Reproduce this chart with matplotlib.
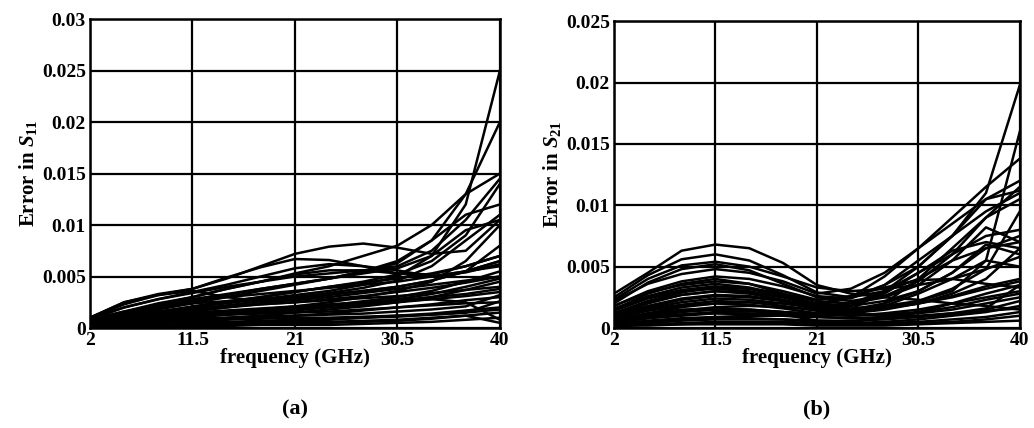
import numpy as np
import matplotlib.pyplot as plt

plt.rcParams['font.family'] = ['Liberation Serif', 'DejaVu Serif']
plt.rcParams['font.weight'] = 'bold'
plt.rcParams['axes.labelweight'] = 'bold'
plt.rcParams['mathtext.fontset'] = 'custom'
plt.rcParams['mathtext.it'] = 'Liberation Serif:italic:bold'
plt.rcParams['mathtext.rm'] = 'Liberation Serif:bold'

# sample frequencies (GHz)
freq = [2, 5.17, 8.33, 11.5, 14.67, 17.83, 21, 24.17, 27.33, 30.5, 33.67, 36.83, 40]
xticks = [2, 11.5, 21, 30.5, 40]

# error in S11, values in units of 1e-3
s11_err = [
    [1.0, 2.5, 3.3, 3.8, 4.8, 6.0, 7.2, 7.9, 8.2, 7.8, 7.2, 7.5, 10.5],
    [1.0, 2.3, 3.2, 3.8, 4.9, 5.9, 6.7, 6.6, 6.0, 5.3, 5.2, 6.0, 7.0],
    [0.8, 2.0, 2.8, 3.5, 4.2, 5.0, 5.8, 6.2, 6.0, 5.6, 5.0, 5.5, 6.5],
    [0.5, 1.5, 2.3, 3.0, 3.8, 4.5, 5.2, 5.6, 5.6, 5.3, 5.0, 5.4, 6.2],
    [0.5, 1.0, 1.5, 2.0, 2.4, 2.8, 3.2, 3.6, 4.2, 5.0, 7.0, 12.0, 25.0],
    [0.6, 1.2, 1.8, 2.4, 3.0, 3.6, 4.2, 4.8, 5.5, 6.5, 8.5, 13.0, 20.0],
    [0.8, 1.6, 2.4, 3.0, 3.8, 4.5, 5.3, 6.0, 7.0, 8.0, 10.0, 13.0, 15.0],
    [1.0, 2.0, 2.8, 3.4, 4.0, 4.5, 5.0, 5.3, 5.6, 6.0, 7.5, 10.5, 14.5],
    [0.5, 1.0, 1.5, 2.0, 2.5, 3.0, 3.5, 4.0, 4.5, 5.2, 6.5, 9.0, 14.0],
    [0.7, 1.5, 2.2, 2.8, 3.3, 3.8, 4.3, 4.8, 5.5, 6.3, 8.5, 11.0, 12.0],
    [0.4, 0.9, 1.4, 1.8, 2.2, 2.6, 3.0, 3.4, 3.9, 4.6, 6.0, 8.5, 11.0],
    [0.6, 1.3, 2.0, 2.6, 3.2, 3.8, 4.3, 4.8, 5.3, 5.8, 7.0, 9.5, 10.5],
    [0.3, 0.6, 0.9, 1.2, 1.5, 1.8, 2.1, 2.5, 3.0, 3.6, 4.5, 6.5, 10.0],
    [0.6, 1.4, 2.0, 2.4, 2.6, 2.8, 3.0, 3.3, 3.6, 4.0, 4.6, 5.5, 8.0],
    [0.5, 1.1, 1.6, 2.1, 2.6, 3.0, 3.5, 4.0, 4.4, 4.8, 5.3, 6.0, 7.0],
    [0.4, 0.8, 1.2, 1.6, 2.0, 2.4, 2.8, 3.2, 3.6, 4.0, 4.6, 5.5, 6.5],
    [0.8, 1.6, 2.2, 2.6, 3.0, 3.3, 3.6, 3.9, 4.2, 4.5, 5.0, 5.5, 6.0],
    [0.3, 0.5, 0.8, 1.0, 1.3, 1.6, 1.9, 2.2, 2.6, 3.0, 3.6, 4.5, 5.5],
    [1.0, 2.5, 3.2, 3.6, 3.0, 2.6, 2.7, 3.0, 3.4, 3.8, 4.2, 4.6, 5.0],
    [0.5, 1.0, 1.4, 1.7, 2.0, 2.3, 2.5, 2.8, 3.1, 3.5, 3.9, 4.4, 5.0],
    [0.2, 0.4, 0.6, 0.8, 1.0, 1.2, 1.5, 1.8, 2.1, 2.5, 3.0, 3.7, 4.5],
    [0.6, 1.2, 1.6, 1.9, 2.1, 2.3, 2.5, 2.7, 2.9, 3.1, 3.4, 3.7, 4.0],
    [0.3, 0.6, 0.9, 1.1, 1.3, 1.5, 1.7, 2.0, 2.2, 2.5, 2.8, 3.1, 3.5],
    [0.3, 0.5, 0.7, 0.9, 1.0, 1.1, 1.2, 1.3, 1.4, 1.6, 1.8, 2.1, 3.2],
    [0.2, 0.3, 0.5, 0.6, 0.8, 1.0, 1.2, 1.4, 1.7, 2.0, 2.3, 2.7, 3.0],
    [0.4, 0.8, 1.0, 1.2, 1.3, 1.4, 1.5, 1.6, 1.8, 2.0, 2.2, 2.4, 2.5],
    [0.5, 0.8, 1.1, 1.4, 1.6, 1.8, 2.0, 2.2, 2.4, 2.6, 2.8, 2.5, 0.8],
    [0.1, 0.2, 0.3, 0.4, 0.5, 0.6, 0.7, 0.8, 1.0, 1.2, 1.4, 1.7, 2.0],
    [0.2, 0.2, 0.3, 0.3, 0.3, 0.4, 0.4, 0.5, 0.6, 0.7, 0.9, 1.2, 1.5],
    [0.3, 0.7, 1.0, 1.3, 1.5, 1.7, 1.9, 2.1, 2.4, 2.8, 3.3, 4.0, 4.8],
    [0.1, 0.1, 0.2, 0.2, 0.2, 0.3, 0.3, 0.3, 0.4, 0.5, 0.6, 0.8, 1.0],
    [0.4, 0.6, 0.7, 0.8, 0.9, 0.9, 1.0, 1.0, 1.1, 1.2, 1.3, 1.5, 1.8],
    [0.2, 0.4, 0.5, 0.6, 0.6, 0.7, 0.8, 0.9, 1.0, 1.1, 1.3, 1.5, 2.6],
    [0.6, 1.0, 1.3, 1.5, 1.7, 1.9, 2.1, 2.3, 2.5, 2.7, 3.0, 3.3, 3.8],
    [0.1, 0.2, 0.2, 0.3, 0.4, 0.5, 0.6, 0.6, 0.7, 0.8, 1.0, 1.2, 0.5],
]

# error in S21, values in units of 1e-3
s21_err = [
    [2.8, 4.5, 6.3, 6.8, 6.5, 5.3, 3.5, 2.8, 2.5, 2.3, 2.0, 1.8, 1.5],
    [2.5, 4.3, 5.6, 6.0, 5.5, 4.3, 2.9, 2.5, 3.0, 4.0, 5.5, 6.5, 7.0],
    [2.3, 4.0, 5.1, 5.4, 5.0, 4.2, 3.3, 3.0, 3.2, 3.5, 4.0, 4.8, 5.8],
    [2.0, 3.7, 4.8, 5.2, 4.7, 3.6, 2.5, 2.2, 2.6, 3.8, 6.0, 9.0, 11.5],
    [2.2, 3.6, 4.4, 4.8, 4.5, 3.8, 2.8, 3.2, 4.5, 6.5, 8.5, 10.5, 12.0],
    [1.8, 3.0, 3.8, 4.2, 4.0, 3.4, 2.6, 2.4, 3.5, 5.5, 7.5, 9.5, 11.0],
    [1.5, 2.8, 3.6, 4.0, 3.6, 2.8, 1.8, 2.5, 4.2, 6.5, 9.0, 11.5, 13.8],
    [1.5, 2.6, 3.3, 3.6, 3.3, 2.7, 2.0, 1.8, 2.8, 4.5, 6.0, 7.5, 8.0],
    [1.2, 2.2, 2.9, 3.3, 3.2, 2.8, 2.2, 2.0, 2.5, 3.5, 5.5, 8.2, 7.0],
    [1.0, 2.0, 2.7, 3.0, 2.8, 2.3, 1.7, 1.5, 2.0, 3.0, 4.5, 6.8, 6.0],
    [1.2, 2.1, 2.7, 3.0, 2.9, 2.5, 2.0, 2.5, 3.5, 5.0, 7.5, 11.0, 19.8],
    [0.8, 1.7, 2.3, 2.6, 2.5, 2.2, 1.8, 1.6, 1.8, 2.2, 3.0, 5.5, 16.0],
    [1.0, 1.6, 2.1, 2.4, 2.3, 2.0, 1.6, 1.4, 1.6, 2.0, 2.6, 3.4, 4.0],
    [0.5, 1.2, 1.7, 2.0, 2.1, 2.0, 1.8, 1.8, 2.2, 3.0, 4.5, 6.5, 7.5],
    [0.8, 1.4, 1.8, 2.0, 1.9, 1.6, 1.2, 1.0, 1.2, 1.5, 2.0, 2.5, 3.0],
    [0.6, 1.0, 1.4, 1.7, 1.8, 1.7, 1.5, 1.4, 1.6, 2.0, 2.8, 4.0, 6.5],
    [0.4, 0.8, 1.1, 1.3, 1.4, 1.3, 1.2, 1.3, 1.6, 2.2, 3.2, 4.8, 9.5],
    [0.6, 0.9, 1.1, 1.2, 1.1, 1.0, 0.9, 0.8, 0.9, 1.0, 1.2, 1.4, 1.6],
    [0.3, 0.6, 0.8, 0.9, 1.0, 1.0, 0.9, 0.8, 0.8, 0.9, 1.1, 1.5, 2.2],
    [0.2, 0.4, 0.6, 0.7, 0.7, 0.7, 0.6, 0.6, 0.7, 0.9, 1.2, 1.6, 3.5],
    [0.1, 0.3, 0.4, 0.5, 0.5, 0.5, 0.4, 0.3, 0.3, 0.4, 0.5, 0.7, 1.0],
    [0.2, 0.2, 0.3, 0.3, 0.3, 0.3, 0.2, 0.2, 0.2, 0.3, 0.4, 0.5, 0.6],
    [0.4, 0.8, 1.0, 1.2, 1.2, 1.1, 1.0, 1.5, 3.0, 5.0, 7.5, 10.5, 11.2],
    [0.9, 1.5, 1.9, 2.2, 2.1, 1.8, 1.4, 1.2, 2.0, 4.0, 6.5, 9.0, 10.5],
    [1.4, 2.4, 3.0, 3.2, 3.0, 2.5, 1.8, 2.0, 3.0, 4.5, 6.3, 7.0, 6.5],
    [0.7, 1.2, 1.5, 1.6, 1.5, 1.3, 1.0, 1.2, 1.8, 2.8, 4.0, 5.5, 5.0],
    [1.6, 2.5, 3.1, 3.4, 3.2, 2.6, 1.7, 1.2, 1.5, 2.0, 2.5, 3.2, 3.8],
    [0.5, 0.9, 1.3, 1.5, 1.4, 1.1, 0.6, 0.5, 0.8, 1.3, 2.0, 2.8, 3.5],
    [1.0, 1.8, 2.4, 2.7, 2.6, 2.2, 1.5, 1.2, 1.0, 1.2, 1.5, 2.0, 2.5],
    [0.3, 0.5, 0.7, 0.8, 0.8, 0.7, 0.5, 0.4, 0.5, 0.7, 1.0, 1.3, 1.8],
    [0.2, 0.3, 0.3, 0.4, 0.4, 0.4, 0.3, 0.3, 0.4, 0.5, 0.7, 0.9, 1.3],
    [0.7, 1.1, 1.4, 1.5, 1.5, 1.3, 1.1, 1.0, 1.1, 1.3, 1.7, 2.3, 2.8],
    [1.8, 2.9, 3.5, 3.8, 3.6, 3.0, 2.3, 2.6, 3.3, 3.9, 4.0, 3.6, 3.3],
]

fig = plt.figure(figsize=(10.34, 4.28), dpi=100)
ax1 = fig.add_axes([0.087, 0.2336, 0.3965, 0.722])
ax2 = fig.add_axes([0.5938, 0.2336, 0.3925, 0.717])

panels = [
    (ax1, s11_err, 0.03, [0, 0.005, 0.01, 0.015, 0.02, 0.025, 0.03],
     r'Error in $S_{11}$', '(a)'),
    (ax2, s21_err, 0.025, [0, 0.005, 0.01, 0.015, 0.02, 0.025],
     r'Error in $S_{21}$', '(b)'),
]

for ax, data, ymax, yticks, ylab, cap in panels:
    for curve in data:
        ax.plot(freq, np.array(curve) * 1e-3, color='black', lw=1.8)
    ax.set_xlim(2, 40)
    ax.set_ylim(0, ymax)
    ax.set_xticks(xticks)
    ax.set_xticklabels(['2', '11.5', '21', '30.5', '40'])
    ax.set_yticks(yticks)
    ax.set_yticklabels([('%g' % t) for t in yticks])
    ax.grid(True, color='black', lw=1.6)
    ax.tick_params(length=0, labelsize=14, pad=3)
    for s in ax.spines.values():
        s.set_linewidth(1.8)
    ax.set_xlabel('frequency (GHz)', fontsize=15, labelpad=-1)
    ax.set_ylabel(ylab, fontsize=15, labelpad=2)
    ax.text(0.5, -0.265, cap, transform=ax.transAxes, ha='center', va='center',
            fontsize=16)

plt.savefig('out.png', dpi=100)
